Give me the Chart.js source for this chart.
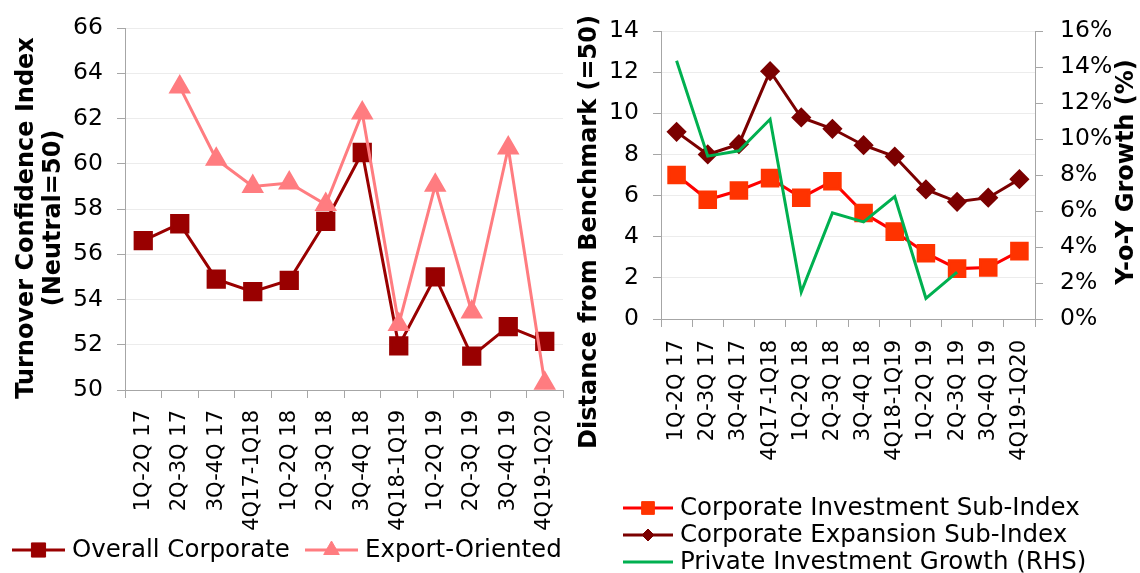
<!DOCTYPE html>
<html><head><meta charset="utf-8">
<script src="https://cdn.jsdelivr.net/npm/chart.js@4.4.1/dist/chart.umd.min.js"></script>
<style>
html,body{margin:0;padding:0;background:#fff;}
#wrap{position:relative;width:1140px;height:573px;overflow:hidden;background:#fff;}
canvas{position:absolute;left:0;top:0;}
</style></head><body>
<div id="wrap"><canvas id="c1" width="1140" height="573"></canvas><canvas id="c2" width="1140" height="573"></canvas></div>
<script>
// ---- data ----
const categories = ['1Q-2Q 17','2Q-3Q 17','3Q-4Q 17','4Q17-1Q18','1Q-2Q 18','2Q-3Q 18','3Q-4Q 18','4Q18-1Q19','1Q-2Q 19','2Q-3Q 19','3Q-4Q 19','4Q19-1Q20'];
const overallCorporate = [56.6, 57.35, 54.9, 54.35, 54.85, 57.45, 60.5, 51.95, 55.0, 51.5, 52.8, 52.15];
const exportOriented   = [null, 63.4, 60.2, 59.0, 59.15, 58.2, 62.25, 52.9, 59.05, 53.45, 60.7, 50.3];
const corpInvestment   = [7.0, 5.8, 6.25, 6.85, 5.9, 6.7, 5.15, 4.25, 3.2, 2.45, 2.5, 3.3];
const corpExpansion    = [9.1, 8.0, 8.5, 12.05, 9.8, 9.25, 8.45, 7.9, 6.3, 5.7, 5.9, 6.8];
const privateInvGrowth = [14.35, 9.05, 9.35, 11.1, 1.5, 5.9, 5.4, 6.8, 1.15, 2.6, null, null];
const leftAxisRange  = [50, 66, 2];
const rightAxisRange = [0, 14, 2];
const rhsAxisRange   = [0, 16, 2];

const FONT = "'DejaVu Sans', Verdana, sans-serif";
Chart.defaults.font.family = FONT;
Chart.defaults.color = '#000';
const AXIS = '#a6a6a6', GRID = '#ececec';
const TICK_SIZE = 23.5, XTICK_SIZE = 21, LEGEND_SIZE = 24.5, TITLE_SIZE = 24;

function drawMarker(ctx, style, x, y, r, color){
  ctx.save();
  ctx.fillStyle = color; ctx.strokeStyle = color; ctx.lineWidth = 1;
  ctx.beginPath();
  if (style === 'rect') { const s = r*Math.SQRT1_2; ctx.rect(x-s, y-s, 2*s, 2*s); }
  else if (style === 'triangle') {
    ctx.moveTo(x, y - r); ctx.lineTo(x + r*Math.sin(2*Math.PI/3), y - r*Math.cos(2*Math.PI/3));
    ctx.lineTo(x + r*Math.sin(4*Math.PI/3), y - r*Math.cos(4*Math.PI/3)); ctx.closePath();
  } else if (style === 'rectRot') {
    ctx.moveTo(x, y-r); ctx.lineTo(x+r, y); ctx.lineTo(x, y+r); ctx.lineTo(x-r, y); ctx.closePath();
  }
  ctx.fill(); ctx.stroke(); ctx.restore();
}

const decorPlugin = {
  id: 'decor',
  afterDraw(chart, args, opts){
    const ctx = chart.ctx;
    (opts.legend || []).forEach(it => {
      const ds = chart.data.datasets[it.index];
      ctx.save();
      ctx.strokeStyle = ds.borderColor; ctx.lineWidth = ds.borderWidth;
      ctx.beginPath(); ctx.moveTo(it.x, it.y); ctx.lineTo(it.x + it.w, it.y); ctx.stroke();
      if (ds.pointRadius) drawMarker(ctx, ds.pointStyle, it.x + it.w/2, it.y, it.r, ds.pointBackgroundColor);
      ctx.fillStyle = '#000'; ctx.font = LEGEND_SIZE + 'px ' + FONT; ctx.textBaseline = 'middle'; ctx.textAlign = 'left';
      ctx.fillText(ds.label, it.x + it.w + 7, it.y + 1);
      ctx.restore();
    });
    (opts.titles || []).forEach(t => {
      ctx.save();
      ctx.translate(t.x, t.y); ctx.rotate(-Math.PI/2);
      ctx.font = 'bold ' + TITLE_SIZE + 'px ' + FONT; ctx.fillStyle = '#000';
      ctx.textAlign = 'center'; ctx.textBaseline = 'middle';
      ctx.fillText(t.text, 0, 0);
      ctx.restore();
    });
  }
};

function xScale(height, pad){
  return {
    type: 'category', offset: true,
    grid: { offset: true, drawOnChartArea: false, drawTicks: true, tickLength: 8, tickColor: AXIS },
    border: { color: AXIS, width: 1 },
    ticks: { minRotation: 90, maxRotation: 90, autoSkip: false, padding: pad, font: { size: XTICK_SIZE }, color: '#000' },
    afterFit(s){ s.height = height; }
  };
}

// ---- left chart ----
new Chart(document.getElementById('c1'), {
  type: 'line',
  data: {
    labels: categories,
    datasets: [
      { label: 'Export-Oriented', data: exportOriented, borderColor: '#FF7C80', backgroundColor: '#FF7C80',
        pointBackgroundColor: '#FF7C80', pointBorderColor: '#FF7C80', borderWidth: 3, pointStyle: 'triangle',
        pointRadius: 10, pointHoverRadius: 10, tension: 0, order: 1 },
      { label: 'Overall Corporate', data: overallCorporate, borderColor: '#990000', backgroundColor: '#990000',
        pointBackgroundColor: '#990000', pointBorderColor: '#990000', borderWidth: 3, pointStyle: 'rect',
        pointRadius: 11.5, pointHoverRadius: 11.5, tension: 0, order: 2 }
    ]
  },
  options: {
    responsive: false, animation: false, events: [],
    layout: { padding: { left: 0, right: 577, top: 26, bottom: 0 } },
    plugins: {
      legend: { display: false }, tooltip: { enabled: false },
      decor: {
        legend: [ { index: 1, x: 12, y: 550, w: 53, r: 10 }, { index: 0, x: 305, y: 550, w: 53, r: 9 } ],
        titles: [ { text: 'Turnover Confidence Index', x: 27, y: 218 }, { text: '(Neutral=50)', x: 54, y: 218 } ]
      }
    },
    scales: {
      x: xScale(183, 12),
      y: { min: leftAxisRange[0], max: leftAxisRange[1],
        ticks: { stepSize: leftAxisRange[2], padding: 14, font: { size: TICK_SIZE }, color: '#000' },
        grid: { color: GRID, tickColor: AXIS, tickLength: 8 }, border: { color: AXIS },
        afterFit(s){ s.width = 125; } }
    }
  },
  plugins: [decorPlugin]
});

// ---- right chart ----
new Chart(document.getElementById('c2'), {
  type: 'line',
  data: {
    labels: categories,
    datasets: [
      { label: 'Corporate Investment Sub-Index', data: corpInvestment, yAxisID: 'y', borderColor: '#FF0000', backgroundColor: '#FF3300',
        pointBackgroundColor: '#FF3300', pointBorderColor: '#FF3300', borderWidth: 3, pointStyle: 'rect',
        pointRadius: 11, pointHoverRadius: 11, tension: 0, order: 3 },
      { label: 'Corporate Expansion Sub-Index', data: corpExpansion, yAxisID: 'y', borderColor: '#7B0000', backgroundColor: '#7B0000',
        pointBackgroundColor: '#7B0000', pointBorderColor: '#7B0000', borderWidth: 3, pointStyle: 'rectRot',
        pointRadius: 8, pointHoverRadius: 8, tension: 0, order: 2 },
      { label: 'Private Investment Growth (RHS)', data: privateInvGrowth, yAxisID: 'y1', borderColor: '#00B050', backgroundColor: '#00B050',
        borderWidth: 3, pointRadius: 0, pointHoverRadius: 0, tension: 0, order: 1 }
    ]
  },
  options: {
    responsive: false, animation: false, events: [],
    layout: { padding: { left: 0, right: 0, top: 26, bottom: 0 } },
    plugins: {
      legend: { display: false }, tooltip: { enabled: false },
      decor: {
        legend: [ { index: 0, x: 623, y: 508, w: 50, r: 9 }, { index: 1, x: 623, y: 535, w: 50, r: 6 }, { index: 2, x: 623, y: 562, w: 50, r: 0 } ],
        titles: [ { text: 'Distance from Benchmark (=50)', x: 590, y: 232 }, { text: 'Y-o-Y Growth (%)', x: 1127, y: 172 } ]
      }
    },
    scales: {
      x: xScale(254, 13),
      y: { position: 'left', min: rightAxisRange[0], max: rightAxisRange[1],
        ticks: { stepSize: rightAxisRange[2], padding: 14, font: { size: TICK_SIZE }, color: '#000' },
        grid: { color: GRID, tickColor: AXIS, tickLength: 8 }, border: { color: AXIS },
        afterFit(s){ s.width = 661; } },
      y1: { position: 'right', min: rhsAxisRange[0], max: rhsAxisRange[1],
        ticks: { stepSize: rhsAxisRange[2], padding: 17, font: { size: TICK_SIZE }, color: '#000', callback: v => v + '%' },
        grid: { drawOnChartArea: false, tickColor: AXIS, tickLength: 8 }, border: { color: AXIS },
        afterFit(s){ s.width = 105; } }
    }
  },
  plugins: [decorPlugin]
});
</script>
</body></html>
